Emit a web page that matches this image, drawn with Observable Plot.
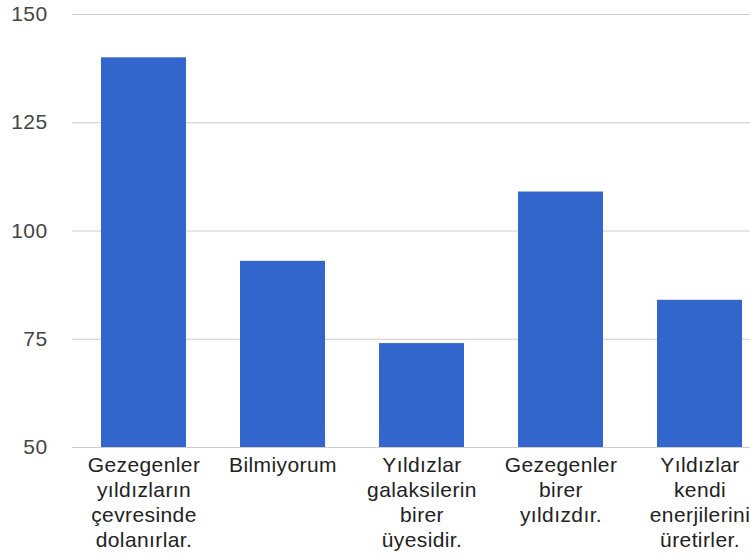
<!DOCTYPE html>
<html>
<head>
<meta charset="utf-8">
<script src="https://cdn.jsdelivr.net/npm/d3@7"></script>
<script src="https://cdn.jsdelivr.net/npm/@observablehq/plot@0.6"></script>
<style>
  html, body { margin: 0; padding: 0; background: #fff; overflow: hidden; }
  #chart { width: 750px; height: 554px; overflow: hidden; }
  #chart svg { display: block; max-width: none !important; height: 554px !important; }
  #chart svg text { letter-spacing: 0.4px; }
</style>
</head>
<body>
<div id="chart"></div>
<script>
const categories = [
  "Gezegenler yıldızların çevresinde dolanırlar.",
  "Bilmiyorum",
  "Yıldızlar galaksilerin birer üyesidir.",
  "Gezegenler birer yıldızdır.",
  "Yıldızlar kendi enerjilerini üretirler."
];
const tickLabels = [
  "Gezegenler\nyıldızların\nçevresinde\ndolanırlar.",
  "Bilmiyorum",
  "Yıldızlar\ngalaksilerin\nbirer\nüyesidir.",
  "Gezegenler\nbirer\nyıldızdır.",
  "Yıldızlar\nkendi\nenerjilerini\nüretirler."
];
const values = [140, 93, 74, 109, 84];
const yTicks = [50, 75, 100, 125, 150];

const data = categories.map((c, i) => ({category: c, value: values[i]}));
const labelOf = new Map(categories.map((c, i) => [c, tickLabels[i]]));

const chart = Plot.plot({
  width: 771,
  height: 554,
  marginTop: 14,
  marginBottom: 107,
  marginLeft: 72,
  marginRight: 0,
  style: {fontFamily: "Arial, 'Liberation Sans', sans-serif", fontSize: "21px", background: "#fff"},
  x: {domain: categories, paddingInner: 0.385, paddingOuter: 0.1925},
  y: {domain: [50, 150]},
  marks: [
    Plot.ruleY(yTicks, {stroke: "#cccccc", strokeWidth: 1}),
    Plot.barY(data, {x: "category", y1: 50, y2: "value", fill: "#3366cc"}),
    Plot.axisY({ticks: yTicks, tickSize: 0, tickPadding: 25, fill: "#444", fontSize: 21, label: null}),
    Plot.axisX({tickSize: 0, tickPadding: 6.5, fill: "#222", fontSize: 21, lineHeight: 1.2, tickFormat: d => labelOf.get(d), label: null})
  ]
});
document.getElementById("chart").append(chart);
</script>
</body>
</html>
